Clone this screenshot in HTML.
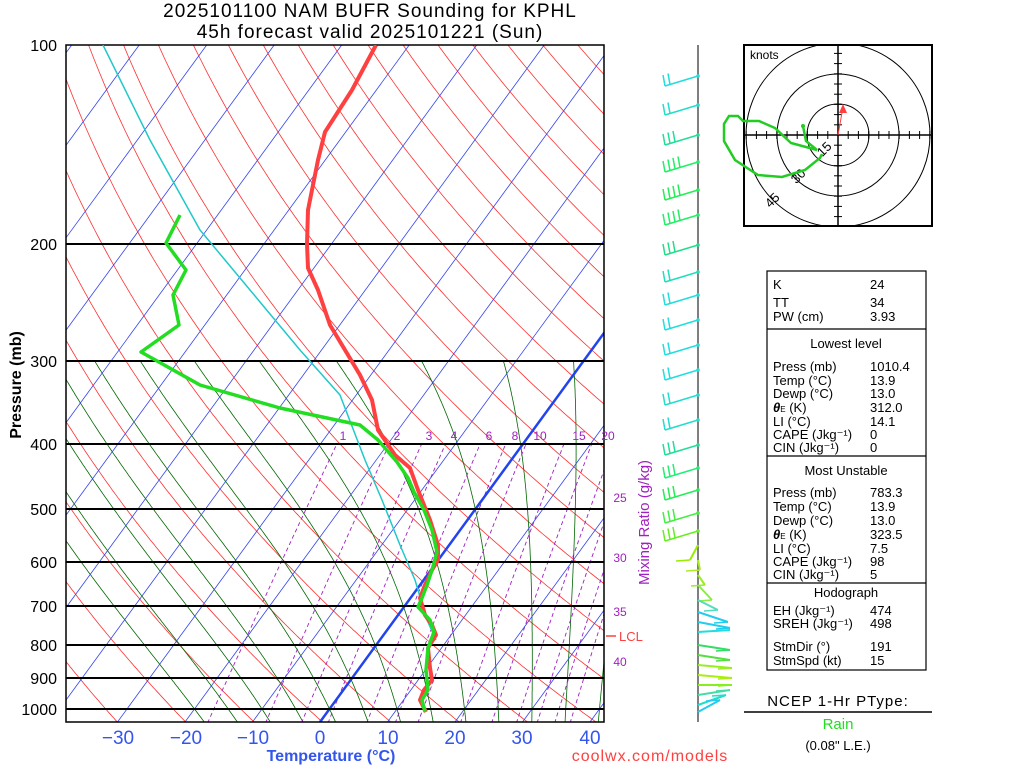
<!DOCTYPE html>
<html><head><meta charset="utf-8"><style>
html,body{margin:0;padding:0;background:#fff;width:1024px;height:768px;overflow:hidden}
svg{display:block}
text{font-family:"Liberation Sans",sans-serif}
</style></head><body>
<svg id="s" width="1024" height="768" viewBox="0 0 1024 768" xmlns="http://www.w3.org/2000/svg">
<defs><clipPath id="c"><rect x="66" y="45" width="538" height="677"/></clipPath>
<clipPath id="c2"><rect x="66" y="361" width="538" height="361"/></clipPath>
<clipPath id="c3"><rect x="66" y="444" width="538" height="278"/></clipPath>
<clipPath id="hc"><rect x="744" y="45" width="188" height="181"/></clipPath></defs>
<g id="grid" clip-path="url(#c)"></g>
<g id="moist" clip-path="url(#c2)"></g>
<g id="mix" clip-path="url(#c3)"></g>
<g id="iso" clip-path="url(#c)"></g>
<g stroke="#000" stroke-width="2" fill="none">
<rect x="66" y="45" width="538" height="677" stroke-width="1.5"/>
<line x1="66" y1="244" x2="604" y2="244"/><line x1="66" y1="361" x2="604" y2="361"/>
<line x1="66" y1="444" x2="604" y2="444"/><line x1="66" y1="509" x2="604" y2="509"/>
<line x1="66" y1="562" x2="604" y2="562"/><line x1="66" y1="606" x2="604" y2="606"/>
<line x1="66" y1="645" x2="604" y2="645"/><line x1="66" y1="678" x2="604" y2="678"/>
<line x1="66" y1="709" x2="604" y2="709"/>
</g>
<g clip-path="url(#c)" fill="none" stroke-linejoin="round">
<polyline stroke="#20c8c8" stroke-width="1.5" points="103,45 150,140 200,230 250,290 300,350 340,395 365,460 382,500 400,545 415,580 427,620 436,640"/>
<polyline stroke="#ff4040" stroke-width="4" points="376,45 352,90 325,132 318,160 308,210 307,244 308,268 318,290 330,325 345,350 360,375 372,400 378,430 395,455 410,468 418,490 430,520 438,545 438,560 432,570 425,585 420,598 425,615 432,625 436,635 428,648 430,668 432,680 424,690 420,700 426,712"/>
<polyline stroke="#22dd22" stroke-width="3.5" points="180,215 166,243 186,270 173,295 179,325 141,352 200,385 280,408 360,425 378,440 397,462 408,478 414,492 424,510 432,530 437,552 432,570 427,585 422,598 418,607 430,620 434,632 428,648 426,670 428,690 422,700 425,712"/>
</g>
<line x1="606" y1="636" x2="616" y2="636" stroke="#ff4040" stroke-width="1.5"/>
<text x="619" y="641" font-size="13" fill="#ff4040">LCL</text>
<g font-size="12" fill="#a020c0" text-anchor="middle">
<text x="343" y="440">1</text><text x="397" y="440">2</text><text x="429" y="440">3</text><text x="454" y="440">4</text><text x="489" y="440">6</text><text x="515" y="440">8</text><text x="540" y="440">10</text><text x="579" y="440">15</text><text x="608" y="440">20</text>
<text x="620" y="502">25</text><text x="620" y="562">30</text><text x="620" y="616">35</text><text x="620" y="666">40</text>
</g>
<text transform="translate(649,585) rotate(-90)" font-size="15" fill="#a020c0">Mixing Ratio (g/kg)</text>
<g font-size="16" text-anchor="end" fill="#000">
<text x="57" y="51">100</text><text x="57" y="250">200</text><text x="57" y="367">300</text><text x="57" y="450">400</text><text x="57" y="515">500</text><text x="57" y="568">600</text><text x="57" y="612">700</text><text x="57" y="651">800</text><text x="57" y="684">900</text><text x="57" y="715">1000</text>
</g>
<text transform="translate(21,385) rotate(-90)" font-size="16" font-weight="bold" text-anchor="middle">Pressure (mb)</text>
<g font-size="19" fill="#3355ee" text-anchor="middle">
<text x="118" y="744">−30</text><text x="186" y="744">−20</text><text x="253" y="744">−10</text><text x="320" y="744">0</text><text x="388" y="744">10</text><text x="455" y="744">20</text><text x="522" y="744">30</text><text x="590" y="744">40</text>
</g>
<text x="331" y="761" font-size="16" font-weight="bold" fill="#3355ee" text-anchor="middle">Temperature (°C)</text>
<text x="650" y="761" font-size="16" fill="#ff4040" text-anchor="middle" letter-spacing="1">coolwx.com/models</text>
<text x="370" y="17" font-size="19" text-anchor="middle" letter-spacing="1">2025101100 NAM BUFR Sounding for KPHL</text>
<text x="370" y="38" font-size="19" text-anchor="middle" letter-spacing="1">45h forecast valid 2025101221 (Sun)</text>
<line x1="698" y1="45" x2="698" y2="722" stroke="#555" stroke-width="1.5"/>
<g id="barbs" fill="none" stroke-width="1.5"></g>
<rect x="744" y="45" width="188" height="181" fill="none" stroke="#000" stroke-width="2"/>
<g clip-path="url(#hc)" fill="none" stroke="#000" stroke-width="1">
<circle cx="838" cy="135" r="31"/><circle cx="838" cy="135" r="61"/><circle cx="838" cy="135" r="92"/>
<line x1="744" y1="135" x2="932" y2="135" stroke-width="1.5"/><line x1="838" y1="45" x2="838" y2="226" stroke-width="1.5"/>
</g>
<g id="ticks" stroke="#000" stroke-width="1"></g>
<text x="750" y="59" font-size="12">knots</text>
<text x="820" y="160" font-size="13" transform="rotate(-45 818 156)">15</text>
<text x="792" y="182" font-size="13" transform="rotate(-45 797 178)">30</text>
<text x="766" y="206" font-size="13" transform="rotate(-45 771 202)">45</text>
<polyline fill="none" stroke="#22cc22" stroke-width="2.5" points="803,126 806,141 817,150 806,147 791,143 775,128 759,121 743,121 738,116 729,116 724,124 724,141 735,160 758,175 782,177 805,170 820,158 822,154"/>
<circle cx="803" cy="126" r="2" fill="#22cc22"/>
<line x1="838" y1="135" x2="843" y2="107" stroke="#ff4040" stroke-width="1"/>
<polygon points="843,104 839,113 847,113" fill="#ff4040"/>
<g fill="none" stroke="#000" stroke-width="1.2">
<rect x="767" y="271" width="159" height="399"/>
<line x1="767" y1="329" x2="926" y2="329"/><line x1="767" y1="456" x2="926" y2="456"/><line x1="767" y1="583" x2="926" y2="583"/>
</g>
<g font-size="13" fill="#000">
<text x="773" y="289">K</text><text x="870" y="289">24</text>
<text x="773" y="307">TT</text><text x="870" y="307">34</text>
<text x="773" y="321">PW (cm)</text><text x="870" y="321">3.93</text>
<text x="846" y="348" text-anchor="middle">Lowest level</text>
<text x="773" y="371">Press (mb)</text><text x="870" y="371">1010.4</text>
<text x="773" y="385">Temp (°C)</text><text x="870" y="385">13.9</text>
<text x="773" y="398">Dewp (°C)</text><text x="870" y="398">13.0</text>
<text x="773" y="412"><tspan font-weight="bold" font-style="italic">θ</tspan><tspan font-size="8">E</tspan> (K)</text><text x="870" y="412">312.0</text>
<text x="773" y="426">LI (°C)</text><text x="870" y="426">14.1</text>
<text x="773" y="439">CAPE (Jkg⁻¹)</text><text x="870" y="439">0</text>
<text x="773" y="452">CIN (Jkg⁻¹)</text><text x="870" y="452">0</text>
<text x="846" y="475" text-anchor="middle">Most Unstable</text>
<text x="773" y="497">Press (mb)</text><text x="870" y="497">783.3</text>
<text x="773" y="511">Temp (°C)</text><text x="870" y="511">13.9</text>
<text x="773" y="525">Dewp (°C)</text><text x="870" y="525">13.0</text>
<text x="773" y="539"><tspan font-weight="bold" font-style="italic">θ</tspan><tspan font-size="8">E</tspan> (K)</text><text x="870" y="539">323.5</text>
<text x="773" y="553">LI (°C)</text><text x="870" y="553">7.5</text>
<text x="773" y="566">CAPE (Jkg⁻¹)</text><text x="870" y="566">98</text>
<text x="773" y="579">CIN (Jkg⁻¹)</text><text x="870" y="579">5</text>
<text x="846" y="597" text-anchor="middle">Hodograph</text>
<text x="773" y="615">EH (Jkg⁻¹)</text><text x="870" y="615">474</text>
<text x="773" y="628">SREH (Jkg⁻¹)</text><text x="870" y="628">498</text>
<text x="773" y="651">StmDir (°)</text><text x="870" y="651">191</text>
<text x="773" y="665">StmSpd (kt)</text><text x="870" y="665">15</text>
</g>
<text x="838" y="706" font-size="15" text-anchor="middle" letter-spacing="1">NCEP 1-Hr PType:</text>
<line x1="744" y1="712" x2="932" y2="712" stroke="#000" stroke-width="1.5"/>
<text x="838" y="729" font-size="15" fill="#22dd22" text-anchor="middle">Rain</text>
<text x="838" y="750" font-size="13" text-anchor="middle">(0.08" L.E.)</text>
</svg>
<script>
(function(){
var NS="http://www.w3.org/2000/svg";
function Y(p){return 709+288.4*Math.log(p/1000);}
function X(T,y){return 320+6.75*T+0.73*(722-y);}
function pl(g,pts,st,w,dash){pts=pts.filter(function(a){return isFinite(a[0])&&isFinite(a[1])});var e=document.createElementNS(NS,"polyline");e.setAttribute("points",pts.map(function(a){return a[0].toFixed(1)+","+a[1].toFixed(1)}).join(" "));e.setAttribute("fill","none");e.setAttribute("stroke",st);e.setAttribute("stroke-width",w);if(dash)e.setAttribute("stroke-dasharray",dash);document.getElementById(g).appendChild(e);}
var ps=[];for(var p=1050;p>=95;p-=5)ps.push(p);
for(var th=200;th<=560;th+=10){(function(th){var pts=ps.map(function(p){var T=th*Math.pow(p/1000,0.286)-273.15;var y=Y(p);return [X(T,y),y]});pl("grid",pts,"#ff3030",0.8);})(th);}
for(var T=-160;T<=50;T+=10){pl("iso",[[X(T,722),722],[X(T,45),45]],T==0?"#2244ee":"#3344ee",T==0?2.5:0.8);}
function es(T){return 6.112*Math.exp(17.67*T/(T+243.5));}
function step(Tk,pp,dp){var e=es(Tk-273.15);var rs=0.622*e/(pp-e);var d=(287*Tk+2.5e6*rs)/(pp*(1004+2.5e6*2.5e6*rs*0.622/(287*Tk*Tk)));return Tk+d*dp;}
for(var T0=-20;T0<=40;T0+=5){var t=T0+273.15,pp;for(pp=1000;pp<1050;pp+=2){t=step(t,pp,2);}var all=[[1050,t]];t=T0+273.15;for(pp=1000;pp>=290;pp-=2){all.push([pp,t]);t=step(t,pp,-2);}
 pl("moist",all.map(function(a){var y=Y(a[0]);return [X(a[1]-273.15,y),y]}),"#006600",0.8);}
[1,2,3,4,6,8,10,15,20,25,30,35,40].forEach(function(w){var pts=[];for(var p=1050;p>=400;p-=10){var e=w*p/(622+w);var l=Math.log(e/6.112);var T=243.5*l/(17.67-l);var y=Y(p);pts.push([X(T,y),y]);}pl("mix",pts,"#a020c0",0.9,"4,3");});
var tk=document.getElementById("ticks");
for(var i=-9;i<=9;i++){if(i==0)continue;var d=i*10.2;var l=document.createElementNS(NS,"line");l.setAttribute("x1",838+d);l.setAttribute("x2",838+d);l.setAttribute("y1",131);l.setAttribute("y2",139);tk.appendChild(l);
if(135+d>45&&135+d<226){var m=document.createElementNS(NS,"line");m.setAttribute("y1",135+d);m.setAttribute("y2",135+d);m.setAttribute("x1",834);m.setAttribute("x2",842);tk.appendChild(m);}}
var bg=document.getElementById("barbs");
var bl=[[76,"#22dddd",2],[105,"#22ddcc",2],[135,"#22dd99",3],[162,"#22ee66",4],[190,"#22ee55",4],[215,"#22ee66",4],[245,"#22dd88",3],[272,"#22ddbb",2],[295,"#22dddd",2],[320,"#22dddd",2],[345,"#22dddd",2],[370,"#22dddd",2],[395,"#22ddcc",2],[420,"#22ddcc",2],[445,"#22dd99",3],[468,"#22ee77",3],[490,"#22ee55",3],[513,"#44ee44",3],[531,"#66ee22",3]];
bl.forEach(function(b){var y=b[0],c=b[1];var ex=665,ey=y+10;
 var s=document.createElementNS(NS,"line");s.setAttribute("x1",698);s.setAttribute("y1",y);s.setAttribute("x2",ex);s.setAttribute("y2",ey);s.setAttribute("stroke",c);bg.appendChild(s);
 for(var k=0;k<b[2];k++){var bx=ex+k*5,by=ey-k*1.5;var f=document.createElementNS(NS,"line");f.setAttribute("x1",bx);f.setAttribute("y1",by);f.setAttribute("x2",bx-2);f.setAttribute("y2",by-11);f.setAttribute("stroke",c);bg.appendChild(f);}
 var dd=document.createElementNS(NS,"circle");dd.setAttribute("cx",698);dd.setAttribute("cy",y);dd.setAttribute("r",1.8);dd.setAttribute("fill",c);bg.appendChild(dd);});
var low=[[545,"#99ee00",690,560],[560,"#aaee22",700,570],[575,"#99ee22",705,585],[585,"#88ee44",712,600],[600,"#55ddbb",718,610],[612,"#22ccee",728,622],[622,"#22ccee",730,628],[632,"#22dddd",730,630],[645,"#33dd66",730,650],[655,"#55dd44",730,660],[665,"#99ee22",732,668],[675,"#aaee11",732,678],[685,"#88ee22",732,685],[695,"#44ddaa",730,690],[705,"#22ddcc",726,695],[712,"#22ccee",720,700]];
low.forEach(function(b){var s=document.createElementNS(NS,"line");s.setAttribute("x1",698);s.setAttribute("y1",b[0]);s.setAttribute("x2",b[2]);s.setAttribute("y2",b[3]);s.setAttribute("stroke",b[1]);s.setAttribute("stroke-width",2);bg.appendChild(s);
 var f=document.createElementNS(NS,"line");f.setAttribute("x1",b[2]);f.setAttribute("y1",b[3]);f.setAttribute("x2",b[2]-14);f.setAttribute("y2",b[3]+1);f.setAttribute("stroke",b[1]);bg.appendChild(f);});
})();
</script>
</body></html>
